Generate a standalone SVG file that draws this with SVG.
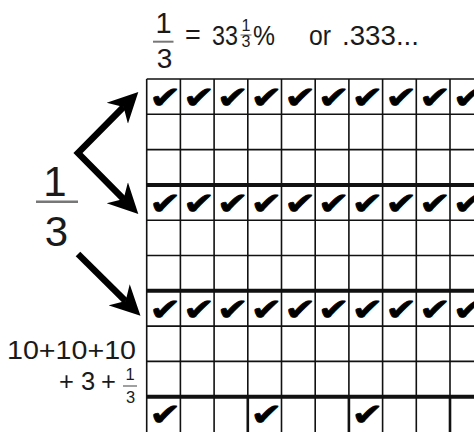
<svg xmlns="http://www.w3.org/2000/svg" width="474" height="432" viewBox="0 0 474 432">
<style>
.t{font-family:"Liberation Sans",Arial,sans-serif;fill:#1a1a1a}
.ck{font-family:"DejaVu Sans",sans-serif;font-size:38px;fill:#000;stroke:#000;stroke-width:0.9;text-anchor:middle}
.bar{stroke:#777;stroke-width:2}
.g{stroke:#111;stroke-width:1.6;fill:none}
.gk{stroke:#111;stroke-width:4;fill:none}
.gv{stroke:#111;stroke-width:2.6;fill:none}
.arr{stroke:#000;stroke-width:6.5;fill:none;stroke-linejoin:miter;stroke-miterlimit:10}
</style>
<defs>
<marker id="ah" viewBox="0 0 10 10" refX="3" refY="5" markerWidth="4.6" markerHeight="4.8" orient="auto-start-reverse">
<path d="M0,0 L10,5 L0,10 L3,5 z" fill="#000"/>
</marker>
</defs>
<rect width="474" height="432" fill="#fff"/>
<g id="title">
<text class="t" x="163.5" y="33" font-size="29" text-anchor="middle">1</text>
<line class="bar" x1="153" y1="41.7" x2="173.5" y2="41.7"/>
<text class="t" x="164.5" y="68" font-size="28" text-anchor="middle">3</text>
<text class="t" x="185" y="44" font-size="27">=</text>
<text class="t" x="212" y="44.5" font-size="27" textLength="26" lengthAdjust="spacingAndGlyphs">33</text>
<text class="t" x="246" y="31" font-size="16" text-anchor="middle">1</text>
<line x1="240.5" y1="35" x2="251.5" y2="35" stroke="#777" stroke-width="1.2"/>
<text class="t" x="246" y="47" font-size="16" text-anchor="middle">3</text>
<text class="t" x="253" y="44.5" font-size="27" textLength="22" lengthAdjust="spacingAndGlyphs">%</text>
<text class="t" x="309" y="44.5" font-size="27" textLength="22" lengthAdjust="spacingAndGlyphs">or</text>
<text class="t" x="342" y="44.5" font-size="27" textLength="77" lengthAdjust="spacingAndGlyphs">.333...</text>
</g>
<g id="fraction-label">
<text class="t" x="55" y="196" font-size="42" text-anchor="middle">1</text>
<line x1="36" y1="201.7" x2="78" y2="201.7" stroke="#777" stroke-width="2.5"/>
<text class="t" x="56.5" y="245.5" font-size="42" text-anchor="middle">3</text>
</g>
<g id="sum-label">
<text class="t" x="7" y="358.5" font-size="25.5" textLength="129" lengthAdjust="spacingAndGlyphs">10+10+10</text>
<text class="t" x="59" y="389.5" font-size="25.5">+</text>
<text class="t" x="81" y="389.5" font-size="25.5">3</text>
<text class="t" x="101" y="389.5" font-size="25.5">+</text>
<text class="t" x="130" y="379.5" font-size="16.5" text-anchor="middle">1</text>
<line x1="123" y1="386" x2="137" y2="386" stroke="#777" stroke-width="1.4"/>
<text class="t" x="130.5" y="402.5" font-size="16.5" text-anchor="middle">3</text>
</g>
<g id="connectors">
<path class="arr" d="M123.6,106.9 L78,153 L123.6,199.1" marker-start="url(#ah)" marker-end="url(#ah)"/>
<path class="arr" d="M78,254 L125.6,301.1" marker-end="url(#ah)"/>
</g>
<g id="grid">
<path class="g" d="M146.7,79H474M146.7,114.3H474M146.7,149.6H474M146.7,220.2H474M146.7,255.5H474M146.7,326.1H474M146.7,361.4H474"/>
<path class="gk" d="M146.7,184.9H474M146.7,290.8H474M146.7,396.7H474"/>
<path class="g" d="M146.7,79V432M180.4,79V432M214.1,79V432M247.8,79V396.7M281.5,79V432M315.2,79V432M348.9,79V396.7M382.6,79V432M416.3,79V432M450,79V396.7"/>
<path class="gv" d="M247.8,396.7V432M348.9,396.7V432M450,396.7V432"/>
</g>
<g id="checks" transform="scale(1,0.8)">
<text class="ck" x="165.3" y="134.6">✔</text><text class="ck" x="199" y="134.6">✔</text><text class="ck" x="232.7" y="134.6">✔</text><text class="ck" x="266.4" y="134.6">✔</text><text class="ck" x="300.1" y="134.6">✔</text><text class="ck" x="333.8" y="134.6">✔</text><text class="ck" x="367.5" y="134.6">✔</text><text class="ck" x="401.2" y="134.6">✔</text><text class="ck" x="434.9" y="134.6">✔</text><text class="ck" x="468.6" y="134.6">✔</text>
<text class="ck" x="165.3" y="267">✔</text><text class="ck" x="199" y="267">✔</text><text class="ck" x="232.7" y="267">✔</text><text class="ck" x="266.4" y="267">✔</text><text class="ck" x="300.1" y="267">✔</text><text class="ck" x="333.8" y="267">✔</text><text class="ck" x="367.5" y="267">✔</text><text class="ck" x="401.2" y="267">✔</text><text class="ck" x="434.9" y="267">✔</text><text class="ck" x="468.6" y="267">✔</text>
<text class="ck" x="165.3" y="399.4">✔</text><text class="ck" x="199" y="399.4">✔</text><text class="ck" x="232.7" y="399.4">✔</text><text class="ck" x="266.4" y="399.4">✔</text><text class="ck" x="300.1" y="399.4">✔</text><text class="ck" x="333.8" y="399.4">✔</text><text class="ck" x="367.5" y="399.4">✔</text><text class="ck" x="401.2" y="399.4">✔</text><text class="ck" x="434.9" y="399.4">✔</text><text class="ck" x="468.6" y="399.4">✔</text>
<text class="ck" x="165.3" y="531.7">✔</text><text class="ck" x="266.4" y="531.7">✔</text><text class="ck" x="367.5" y="531.7">✔</text>
</g>
</svg>
